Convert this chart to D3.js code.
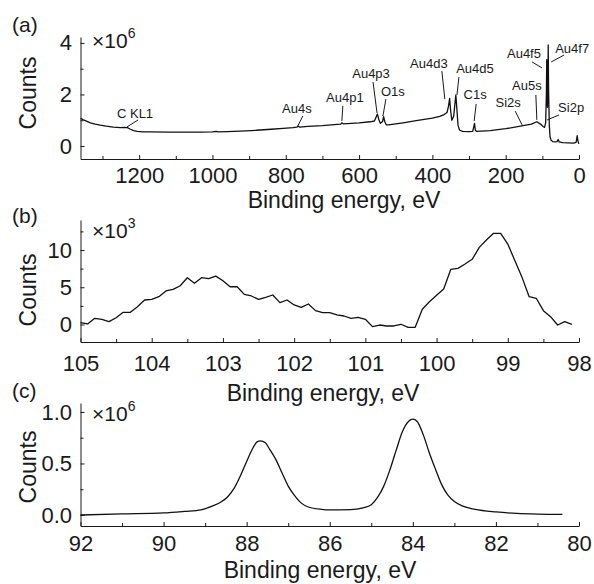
<!DOCTYPE html>
<html>
<head>
<meta charset="utf-8">
<script src="https://cdn.jsdelivr.net/npm/d3@7"></script>
<style>
  body { margin: 0; background: #fff; }
  text { font-family: "Liberation Sans", Arial, sans-serif; fill: #1a1a1a; }
</style>
</head>
<body>
<div id="wrapper"></div>
<script>
// ---- panel (a): survey spectrum, counts in 1e6 ----
const surveyEnergy = [1360,1350,1333,1320,1306,1290,1270,1251,1240,1232,1225,1215,1205,1190,1169,1120,1070,1033,1000,990,984,960,924,880,840,807,780,770,766,762,740,700,660,650,647,643,600,570,558,550,546,542,536,533,530,526,520,480,440,400,380,368,360,356,353,350,347,342,338,336,333,330,326,318,300,290,287,285,283,280,242,200,156,130,115,105,98,94,91,89,88,87,86,85,84,83,81,79,76,72,65,60,57,54,45,30,15,8,6,5,3,0.5];
const surveyCounts = [1.07,1.0,0.9,0.85,0.81,0.77,0.73,0.71,0.72,0.71,0.66,0.6,0.57,0.55,0.55,0.54,0.54,0.54,0.55,0.57,0.55,0.56,0.58,0.61,0.65,0.68,0.71,0.73,0.78,0.73,0.76,0.79,0.84,0.85,0.9,0.86,0.9,0.94,0.97,1.24,1.02,0.88,0.95,1.14,0.95,0.82,0.82,0.9,0.99,1.08,1.15,1.22,1.3,1.55,1.85,1.35,1.0,1.15,1.7,1.98,1.4,0.8,0.62,0.57,0.56,0.57,0.75,0.88,0.62,0.57,0.6,0.67,0.78,0.85,0.94,0.85,0.76,0.72,0.9,2.0,3.35,2.0,1.5,2.2,3.92,2.2,0.8,0.36,0.22,0.17,0.16,0.17,0.25,0.16,0.13,0.12,0.11,0.14,0.3,0.4,0.2,0.08];

const peakLabels = ["C KL1","Au4s","Au4p1","Au4p3","O1s","Au4d3","Au4d5","C1s","Si2s","Au5s","Au4f5","Au4f7","Si2p"];
const peakEnergy = [1233,767,647,551,535,366,333,286,155,115,101,76,87];
const peakCounts = [0.74,0.78,0.97,1.28,1.16,1.82,1.98,0.97,0.81,1.01,3.03,3.26,1.01];

// ---- panel (b): Si 2p, counts in 1e3 ----
const si2pEnergy = [105.0,104.9,104.8,104.7,104.6,104.5,104.4,104.3,104.2,104.1,104.0,103.9,103.8,103.7,103.6,103.5,103.4,103.3,103.2,103.1,103.0,102.9,102.8,102.7,102.6,102.5,102.4,102.3,102.2,102.1,102.0,101.9,101.8,101.7,101.6,101.5,101.4,101.3,101.2,101.1,101.0,100.9,100.8,100.7,100.6,100.5,100.4,100.3,100.2,100.1,100.0,99.9,99.8,99.7,99.6,99.5,99.4,99.3,99.2,99.1,99.0,98.9,98.8,98.7,98.6,98.5,98.4,98.3,98.2,98.1];
const si2pCounts = [0.25,0.07,0.83,0.7,0.38,0.91,1.64,1.64,2.39,3.29,3.38,3.73,4.5,4.72,5.2,6.28,5.53,6.28,6.15,6.5,5.88,5.07,5.07,4.05,3.83,3.38,3.65,3.96,2.93,3.29,2.62,2.31,2.75,1.86,1.59,1.59,1.28,1.14,0.83,0.97,0.7,-0.29,-0.07,-0.2,-0.2,0.03,-0.38,-0.38,2.04,3.06,3.92,4.77,7.41,7.54,8.12,8.75,10.36,11.34,12.24,12.24,10.8,8.56,6.33,3.73,3.52,1.86,1.05,-0.07,0.38,0.03];

// ---- panel (c): Au 4f, counts in 1e6 ----
const au4fEnergy = [92,91,90,89.5,89.1,88.8,88.6,88.45,88.3,88.15,88.0,87.85,87.75,87.67,87.55,87.45,87.3,87.15,87.0,86.85,86.7,86.5,86.2,86.0,85.5,85.2,85.0,84.85,84.7,84.55,84.4,84.25,84.1,84.0,83.9,83.75,83.6,83.45,83.3,83.15,83.0,82.8,82.5,82.0,81.5,81.0,80.4];
const au4fCounts = [0.0,0.01,0.02,0.035,0.05,0.09,0.13,0.18,0.26,0.38,0.52,0.65,0.71,0.72,0.7,0.64,0.54,0.41,0.28,0.19,0.12,0.075,0.055,0.05,0.052,0.07,0.1,0.17,0.28,0.44,0.63,0.81,0.91,0.93,0.91,0.78,0.6,0.44,0.29,0.19,0.13,0.085,0.055,0.03,0.015,0.008,0.005];

// tick values and labels
const aXTicks = [1200,1000,800,600,400,200,0];
const aXMinor = [1300,1100,900,700,500,300,100];
const aYTicks = [0,2,4];
const aYLabels = ["0","2","4"];
const aYMinor = [1,3];
const bXTicks = [105,104,103,102,101,100,99,98];
const bXMinor = [104.5,103.5,102.5,101.5,100.5,99.5,98.5];
const bYTicks = [0,5,10];
const bYLabels = ["0","5","10"];
const bYMinor = [2.5,7.5,12.5];
const cXTicks = [92,90,88,86,84,82,80];
const cXMinor = [91,89,87,85,83,81];
const cYTicks = [0,0.5,1.0];
const cYLabels = ["0.0","0.5","1.0"];
const cYMinor = [0.25,0.75];

// label offsets (px) from the anchor: leader end dx, dy, text dx, dy
const labelOffsets = [
  [11,-7,8,-9],[5,-10,-1,-13],[1,-15,3,-19],[-4,-31,-6,-35],[3,-17,10,-20],
  [-3,-28,-16,-31],[2,-18,18,-22],[2,-17,1,-22],[-7,-14,-14,-18],[-1,-25,-10,-30],
  [-10,-6,-18,-10],[13,-7,21,-9],[12,-5,24,-8]
];

const width = 594, height = 584;
const left = 80.5, right = 579;

const svg = d3.select("#wrapper")
  .append("svg")
  .attr("width", width)
  .attr("height", height);

const panels = [
  { tag: "(a)", tagY: 32, top: 37, bottom: 159, xDomain: [1360, 0], yDomain: [-0.505, 4.23],
    energy: surveyEnergy, counts: surveyCounts, curve: d3.curveLinear,
    xTicks: aXTicks, xMinor: aXMinor, yTicks: aYTicks, yLabels: aYLabels, yMinor: aYMinor,
    xPad: 8, exp: "6", expY: 48, titleX: 344, titleY: 208, countsY: 93 },
  { tag: "(b)", tagY: 223, top: 220, bottom: 342, xDomain: [105, 98], yDomain: [-2.35, 14.03],
    energy: si2pEnergy, counts: si2pCounts, curve: d3.curveLinear,
    xTicks: bXTicks, xMinor: bXMinor, yTicks: bYTicks, yLabels: bYLabels, yMinor: bYMinor,
    xPad: 13, exp: "3", expY: 238, titleX: 323, titleY: 401, countsY: 290 },
  { tag: "(c)", tagY: 398, top: 403, bottom: 526, xDomain: [92, 80], yDomain: [-0.107, 1.087],
    energy: au4fEnergy, counts: au4fCounts, curve: d3.curveMonotoneX,
    xTicks: cXTicks, xMinor: cXMinor, yTicks: cYTicks, yLabels: cYLabels, yMinor: cYMinor,
    xPad: 9, exp: "6", expY: 421, titleX: 320, titleY: 578, countsY: 467 }
];

panels.forEach((p, pi) => {
  const xScale = d3.scaleLinear().domain(p.xDomain).range([left, right]);
  const yScale = d3.scaleLinear().domain(p.yDomain).range([p.bottom, p.top]);

  // minor ticks
  svg.append("g")
    .attr("transform", `translate(0,${p.bottom})`)
    .call(d3.axisBottom(xScale).tickValues(p.xMinor).tickSize(-3).tickFormat(""))
    .call(g => g.select(".domain").remove());
  svg.append("g")
    .attr("transform", `translate(${left},0)`)
    .call(d3.axisLeft(yScale).tickValues(p.yMinor).tickSize(-3).tickFormat(""))
    .call(g => g.select(".domain").remove());

  // x axis
  const xAxis = svg.append("g")
    .attr("transform", `translate(0,${p.bottom})`)
    .call(d3.axisBottom(xScale).tickValues(p.xTicks).tickSize(-4).tickSizeOuter(0)
      .tickPadding(p.xPad).tickFormat(d3.format("d")));
  xAxis.selectAll("text").style("font-size", "22px").attr("fill", "#1a1a1a");

  // y axis
  const yAxis = svg.append("g")
    .attr("transform", `translate(${left},0)`)
    .call(d3.axisLeft(yScale).tickValues(p.yTicks).tickSize(-4).tickSizeOuter(0)
      .tickPadding(8.5).tickFormat((d, i) => p.yLabels[i]));
  yAxis.selectAll("text").style("font-size", "22px").attr("fill", "#1a1a1a");

  svg.selectAll(".domain, .tick line").attr("stroke", "#1a1a1a").attr("stroke-width", 1);

  // spectrum line
  const line = d3.line()
    .x((d, i) => xScale(p.energy[i]))
    .y(d => yScale(d))
    .curve(p.curve);
  svg.append("path")
    .datum(p.counts)
    .attr("d", line)
    .attr("fill", "none")
    .attr("stroke", "#111")
    .attr("stroke-width", 1.3)
    .attr("stroke-linejoin", "round");

  // multiplier
  const mult = svg.append("text")
    .attr("x", 92)
    .attr("y", p.expY)
    .style("font-size", "21px")
    .text("×10");
  mult.append("tspan")
    .attr("dy", -10)
    .style("font-size", "14px")
    .text(p.exp);

  // panel tag
  svg.append("text")
    .attr("x", 12)
    .attr("y", p.tagY)
    .style("font-size", "21px")
    .text(p.tag);

  // axis titles
  svg.append("text")
    .attr("x", p.titleX)
    .attr("y", p.titleY)
    .attr("text-anchor", "middle")
    .style("font-size", "23px")
    .text("Binding energy, eV");

  svg.append("text")
    .attr("transform", `translate(36,${p.countsY}) rotate(-90)`)
    .attr("text-anchor", "middle")
    .style("font-size", "23px")
    .text("Counts");

  // peak annotations on the survey
  if (pi === 0) {
    peakLabels.forEach((name, i) => {
      const x0 = xScale(peakEnergy[i]);
      const y0 = yScale(peakCounts[i]);
      const o = labelOffsets[i];
      svg.append("line")
        .attr("x1", x0).attr("y1", y0)
        .attr("x2", x0 + o[0]).attr("y2", y0 + o[1])
        .attr("stroke", "#1a1a1a")
        .attr("stroke-width", 1);
      svg.append("text")
        .attr("x", x0 + o[2])
        .attr("y", y0 + o[3])
        .attr("text-anchor", "middle")
        .style("font-size", "13px")
        .text(name);
    });
  }
});
</script>
</body>
</html>
